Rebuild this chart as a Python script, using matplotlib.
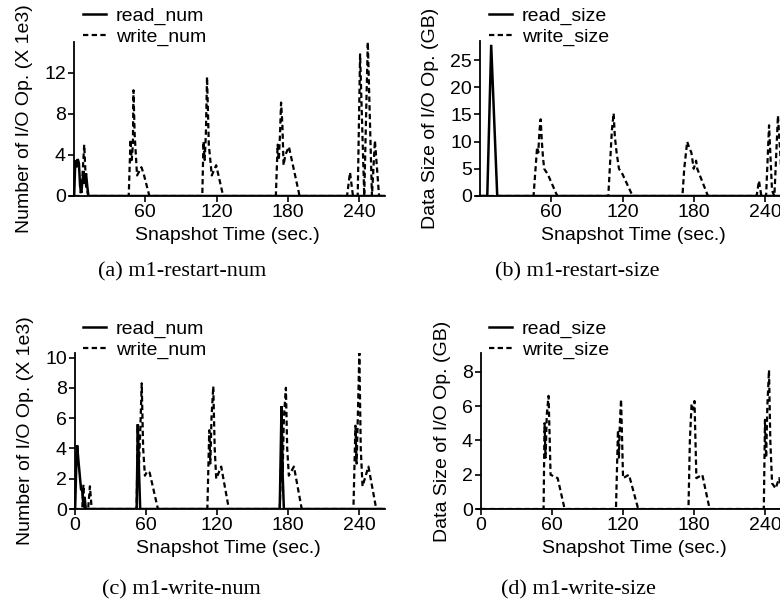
import matplotlib
matplotlib.use("Agg")
import matplotlib.pyplot as plt

# ---------------- data ----------------
# (a) m1-restart-num  (X 1e3)
a_read_t = [0, 1, 2, 3, 4, 5, 6, 7, 8, 9, 10, 11, 12, 262]
a_read_v = [0, 3.5, 2.8, 3.6, 3.2, 1.0, 0.3, 1.5, 2.4, 1.2, 2.2, 1.0, 0, 0]
a_write_t = [0, 5, 7, 8.5, 10, 12,
             46, 47.5, 48.5, 49.5, 50, 51, 53, 56.7, 58.5, 63.4,
             108, 109, 110, 111, 112, 113.5, 116, 119.7, 125.6,
             170, 171.5, 172.5, 173.5, 174.4, 175.5, 176.5, 178, 181, 190,
             230, 232.5, 235, 239, 241, 244.5, 247.5, 251, 253.5, 257, 262]
a_write_v = [0, 0, 2, 5, 1, 0,
             0, 5.5, 3.5, 5, 10.3, 6, 2, 2.8, 2.2, 0,
             0, 5.3, 3.5, 6, 11.6, 5, 2, 3, 0,
             0, 5, 3.5, 6, 9.1, 7, 3, 4, 4.8, 0,
             0, 2.3, 0, 0, 13.8, 0, 15, 0, 5.4, 0, 0]

# (b) m1-restart-size  (GB)
b_read_t = [0, 6, 9.3, 14.4, 262]
b_read_v = [0, 0, 27.8, 0, 0]
b_write_t = [0, 45, 47, 48, 49, 50, 51, 52, 53, 54, 57, 65,
             108, 110, 111, 112.5, 113.5, 115, 117, 120, 128.5,
             170.5, 172, 174.5, 176, 178, 180, 182, 183, 192,
             233, 235, 237, 241, 243.5, 246, 248, 251, 254, 256, 258, 262]
b_write_v = [0, 0, 6, 9, 8, 12, 14.1, 10, 7, 5, 4, 0,
             0, 8, 12, 15.2, 11, 8, 5, 4, 0,
             0, 5, 10, 9, 8, 5, 6.5, 5, 0,
             0, 2.8, 0, 0, 13, 1, 0, 14.8, 4, 0, 5, 0]

# (c) m1-write-num  (X 1e3)
c_read_t = [0, 1, 1.7, 3, 5, 6, 7, 8, 9, 52, 53, 54, 55, 173, 174.5, 175.5, 176.5, 262]
c_read_v = [0, 3, 4.2, 3, 1.3, 1.2, 0.2, 0.8, 0, 0, 5.6, 2.5, 0, 0, 6.8, 2.2, 0, 0]
c_write_t = [0, 6, 7, 8, 11, 12.5, 14,
             52, 53, 54, 55, 56.3, 57.5, 59, 61, 63, 70,
             111.8, 113.4, 114.3, 115.3, 116.8, 118, 119.3, 123.5, 130,
             173, 174.5, 175.5, 176.5, 178.2, 179.3, 180.7, 185, 191.6,
             235.3, 237, 238, 239, 240.3, 241.5, 243, 248, 254.6, 262]
c_write_v = [0, 0, 1.6, 0, 0, 1.5, 0,
             0, 5.5, 3, 5, 8.3, 4, 2.2, 2.5, 2.4, 0,
             0, 5.2, 3, 6, 8.1, 4, 2, 2.8, 0,
             0, 4, 2.5, 6, 8, 4, 2.2, 2.8, 0,
             0, 5.5, 3, 6, 10.3, 4, 1.5, 2.8, 0, 0]

# (d) m1-write-size  (GB)
d_read_t = [0, 262]
d_read_v = [0, 0]
d_write_t = [0, 52.8, 53.6, 54.5, 55.5, 57, 58, 58.7, 64.7, 70.6,
             114, 115.7, 116.5, 117.3, 118.3, 119.2, 120, 125, 132.8,
             175.3, 176.5, 177.9, 179, 180.4, 182, 187, 193.2,
             239, 240, 241, 242, 243.4, 244.5, 246, 249, 252, 258, 262]
d_write_v = [0, 0, 5, 3, 5.5, 6.6, 4, 2, 1.8, 0,
             0, 4.6, 3, 5, 6.4, 4, 1.8, 2, 0,
             0, 4, 6.1, 5.8, 6.3, 1.8, 2, 0,
             0, 5.2, 3, 6, 8.1, 4, 1.5, 1.2, 1.8, 0, 0]

panels = [
    dict(rt=a_read_t, rv=a_read_v, wt=a_write_t, wv=a_write_v,
         names=("read_num", "write_num"), ylabel="Number of I/O Op. (X 1e3)",
         ylim=15, yticks=[0, 4, 8, 12], xticks=[60, 120, 180, 240],
         cap="(a) m1-restart-num"),
    dict(rt=b_read_t, rv=b_read_v, wt=b_write_t, wv=b_write_v,
         names=("read_size", "write_size"), ylabel="Data Size of I/O Op. (GB)",
         ylim=28.5, yticks=[0, 5, 10, 15, 20, 25], xticks=[60, 120, 180, 240],
         cap="(b) m1-restart-size"),
    dict(rt=c_read_t, rv=c_read_v, wt=c_write_t, wv=c_write_v,
         names=("read_num", "write_num"), ylabel="Number of I/O Op. (X 1e3)",
         ylim=10.3, yticks=[0, 2, 4, 6, 8, 10], xticks=[0, 60, 120, 180, 240],
         cap="(c) m1-write-num"),
    dict(rt=d_read_t, rv=d_read_v, wt=d_write_t, wv=d_write_v,
         names=("read_size", "write_size"), ylabel="Data Size of I/O Op. (GB)",
         ylim=9.1, yticks=[0, 2, 4, 6, 8], xticks=[0, 60, 120, 180, 240],
         cap="(d) m1-write-size"),
]

W, H = 780, 611
plt.rcParams['font.family'] = ['Liberation Sans', 'DejaVu Sans']
fig = plt.figure(figsize=(W / 100, H / 100), dpi=100)

# axes pixel boxes: left, bottom(y from top), right, top(y from top)
boxes = [(70, 196, 385, 42), (476, 196, 791, 41), (71, 509, 385, 353), (477, 509, 791, 353)]
legend_pos = [(83, 7), (489, 7), (83, 320), (489, 320)]
cap_pos = [(182, 272), (577, 272), (181, 590), (578, 590)]

for p, (l, b, r, t), (lx, ly), (cx, cy) in zip(panels, boxes, legend_pos, cap_pos):
    ax = fig.add_axes([l / W, (H - b) / H, (r - l) / W, (b - t) / H])
    ax.plot(p['rt'], p['rv'], color='black', lw=1.8, label=p['names'][0], solid_joinstyle='miter')
    ax.plot(p['wt'], p['wv'], color='black', lw=1.6, dashes=(2.4, 1.5), label=p['names'][1])
    ax.set_xlim(-3.5, 262)
    ax.set_ylim(0, p['ylim'])
    ax.spines['left'].set_position(('data', 0))
    for s in ('top', 'right'):
        ax.spines[s].set_visible(False)
    for s in ('left', 'bottom'):
        ax.spines[s].set_linewidth(1.3)
    ax.set_xticks(p['xticks'])
    ax.set_yticks(p['yticks'])
    ax.tick_params(direction='out', length=4, width=1.2, labelsize=14, pad=2)
    ax.set_xlabel("Snapshot Time (sec.)", fontsize=14, labelpad=4)
    ax.set_ylabel(p['ylabel'], fontsize=14, labelpad=8)
    ax.legend(loc='upper left', bbox_to_anchor=(lx / W, 1 - ly / H), bbox_transform=fig.transFigure,
              frameon=False, fontsize=14, handlelength=1.2, handletextpad=0.5,
              labelspacing=0.15, borderpad=0, borderaxespad=0)
    fig.text(cx / W, 1 - cy / H, p['cap'], ha='center', va='center', fontsize=16,
             family=['Liberation Serif', 'DejaVu Serif'])

fig.savefig("out.png", dpi=100)
